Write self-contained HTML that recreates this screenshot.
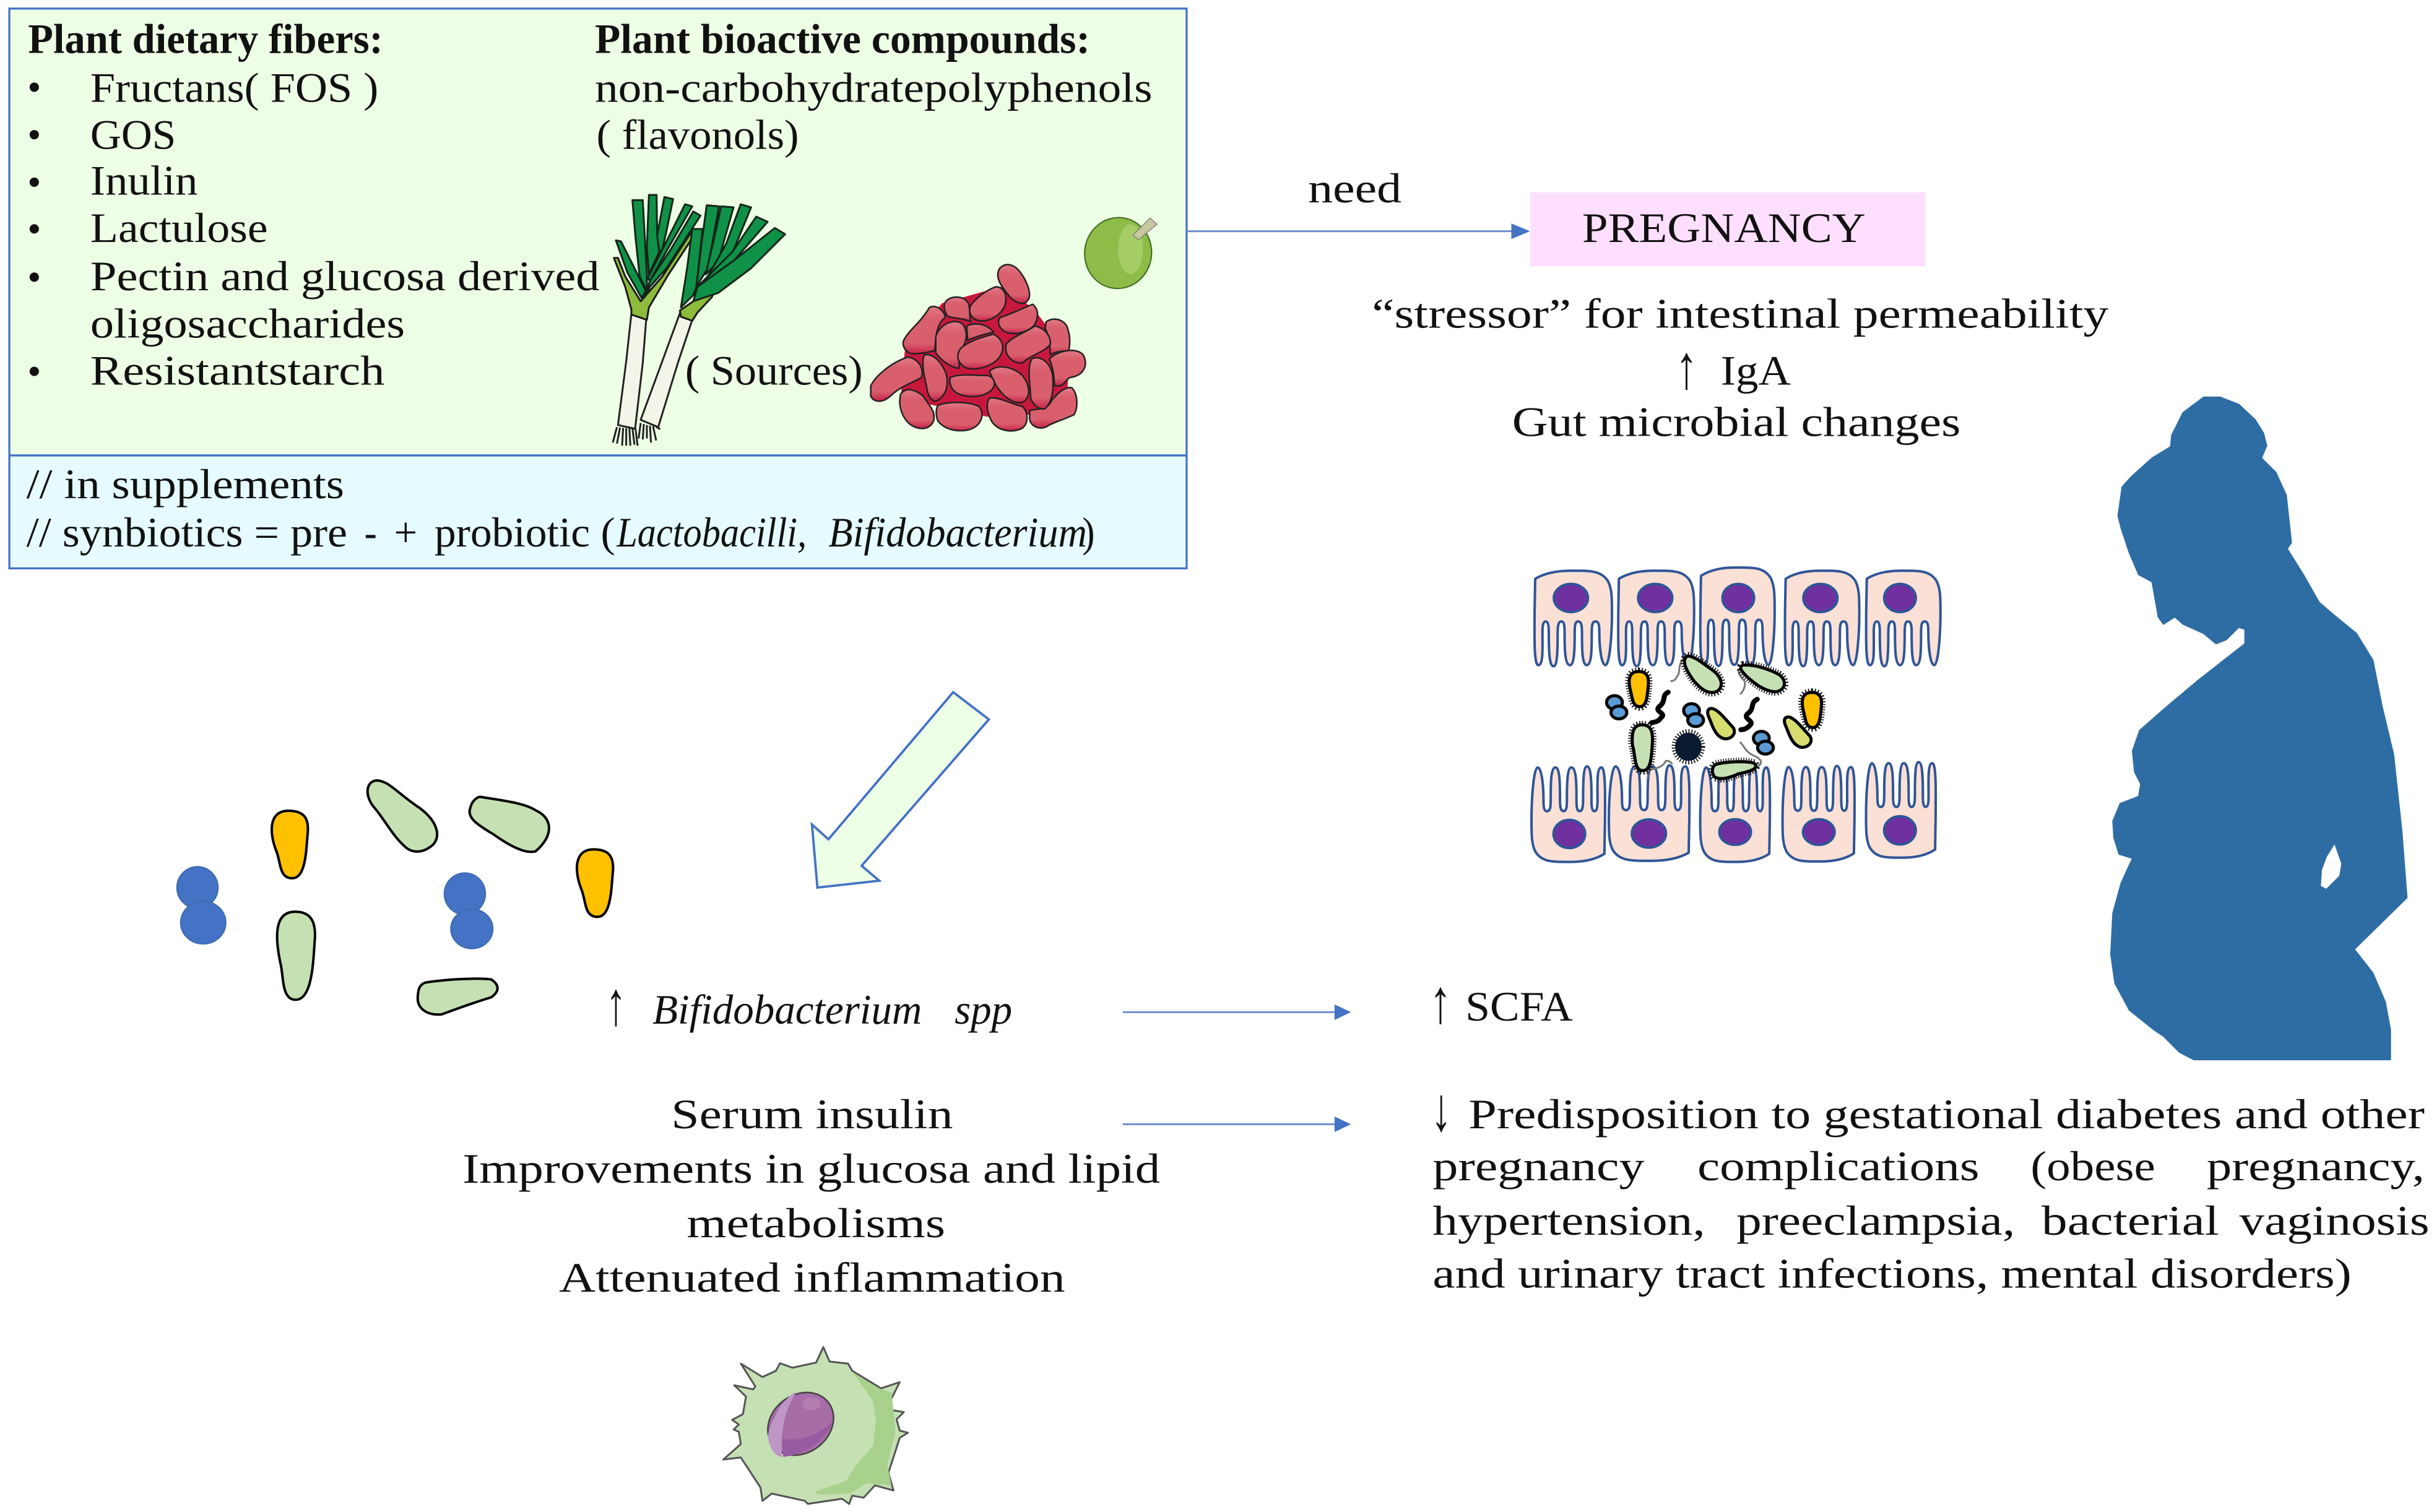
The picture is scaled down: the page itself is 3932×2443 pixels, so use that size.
<!DOCTYPE html>
<html><head><meta charset="utf-8"><style>
html,body{margin:0;padding:0;background:#fff}
svg{display:block}
text{font-family:"Liberation Serif",serif;font-size:27px;fill:#111}
.b{font-weight:bold}.i{font-style:italic}
text.ar{font-size:40px}
.n{vector-effect:non-scaling-stroke}
.g{fill:#c5e0b3}.o{fill:#ffc000}.y{fill:#d6dc6e}.bl{fill:#5b9bd5}
.bk{stroke:#000;stroke-width:5;stroke-linejoin:round}
.hair{fill:none;stroke:#111;stroke-width:13;stroke-dasharray:1.5 2.5}
.fl{fill:none;stroke:#777;stroke-width:3}
.sq{fill:none;stroke:#000;stroke-width:8;stroke-linecap:round}
.cell{fill:#fbe0d6;stroke:#2f5597;stroke-width:4;stroke-linejoin:round}
.nuc{fill:#7030a0;stroke:#2f5597;stroke-width:4}
.leaf{fill:#0f9147;stroke:#15251a;stroke-width:3;stroke-linejoin:round}
.lt{fill:#8dbb3a;stroke:#1a1a1a;stroke-width:3;stroke-linejoin:round}
.st{fill:#f3f5e9;stroke:#222;stroke-width:3;stroke-linejoin:round}
.bean{fill:url(#bg);stroke:#222;stroke-width:2.500;stroke-linejoin:round}
.z3{stroke:#000;stroke-width:4;stroke-linejoin:round}
</style></head><body>
<svg xmlns="http://www.w3.org/2000/svg" width="3932" height="2443" viewBox="0 0 1563 971" preserveAspectRatio="none">
<defs>
<linearGradient id="bg" x1="0" y1="0" x2="0" y2="1"><stop offset="0" stop-color="#e27985"/><stop offset=".25" stop-color="#d95f6d"/><stop offset=".78" stop-color="#d95f6d"/><stop offset="1" stop-color="#c8234a"/></linearGradient>
<path id="c" class="cell n" d="M2 40C30 15 70 2 115 2C175 2 210 0 232 50C245 85 245 130 245 200C245 300 238 440 225 445C210 445 205 350 205 290C205 255 203 240 193 240C182 240 181 260 181 300C181 380 180 445 165 445C150 445 150 360 150 290C150 255 147 240 138 240C128 240 127 260 127 300C127 380 125 445 112 445C95 445 95 360 95 290C95 255 93 240 85 240C75 240 73 260 73 300C73 380 72 450 60 450C45 450 45 360 45 290C45 255 42 240 35 240C27 240 25 260 25 290C25 370 28 445 12 445C-3 445 0 300 0 200Z"/>
</defs>
<rect width="1563" height="971" fill="#fff"/>

<!-- top box -->
<rect x="6" y="5.500" width="756" height="287" fill="#edffe5" stroke="#4472c4" stroke-width="1.300"/>
<rect x="6" y="292.500" width="756" height="72.500" fill="#e5fbff" stroke="#4472c4" stroke-width="1.300"/>

<text class="b" x="18" y="34" textLength="228" lengthAdjust="spacingAndGlyphs">Plant dietary fibers:</text>
<text x="58" y="65.300" textLength="185" lengthAdjust="spacingAndGlyphs">Fructans( FOS )</text>
<text x="58" y="95.500" textLength="55" lengthAdjust="spacingAndGlyphs">GOS</text>
<text x="58" y="125" textLength="69" lengthAdjust="spacingAndGlyphs">Inulin</text>
<text x="58" y="155.500" textLength="114" lengthAdjust="spacingAndGlyphs">Lactulose</text>
<text x="58" y="186.500" textLength="327" lengthAdjust="spacingAndGlyphs">Pectin and glucosa derived</text>
<text x="58" y="216.800" textLength="202" lengthAdjust="spacingAndGlyphs">oligosaccharides</text>
<text x="58" y="247" textLength="189" lengthAdjust="spacingAndGlyphs">Resistantstarch</text>
<g fill="#111"><circle cx="22" cy="56" r="3"/><circle cx="22" cy="86.500" r="3"/><circle cx="22" cy="117" r="3"/><circle cx="22" cy="147" r="3"/><circle cx="22" cy="178" r="3"/><circle cx="22" cy="238.500" r="3"/></g>

<text class="b" x="382" y="34" textLength="318" lengthAdjust="spacingAndGlyphs">Plant bioactive compounds:</text>
<text x="382" y="65.300" textLength="358" lengthAdjust="spacingAndGlyphs">non-carbohydratepolyphenols</text>
<text x="383" y="95.500" textLength="130" lengthAdjust="spacingAndGlyphs">( flavonols)</text>
<text x="440" y="247" textLength="114" lengthAdjust="spacingAndGlyphs">( Sources)</text>

<text x="17" y="320" textLength="204" lengthAdjust="spacingAndGlyphs">// in supplements</text>
<text x="17" y="351" textLength="206" lengthAdjust="spacingAndGlyphs">// synbiotics = pre</text>
<text x="234" y="351" textLength="8" lengthAdjust="spacingAndGlyphs">-</text>
<text x="253" y="351" textLength="15" lengthAdjust="spacingAndGlyphs">+</text>
<text x="279" y="351" textLength="116" lengthAdjust="spacingAndGlyphs">probiotic (</text>
<text class="i" x="396" y="351" textLength="122" lengthAdjust="spacingAndGlyphs">Lactobacilli,</text>
<text class="i" x="532" y="351" textLength="166" lengthAdjust="spacingAndGlyphs">Bifidobacterium</text>
<text x="695" y="351" textLength="8" lengthAdjust="spacingAndGlyphs">)</text>

<!-- leeks -->
<g transform="scale(.3975) translate(970,300) scale(.33333)">
<path class="st n" d="M150 620L125 850L85 1160L168 1178L205 860L222 645Z"/>
<path class="lt n" d="M65 350L85 350L120 440L195 560L300 440L440 225L448 250L330 430L235 590L225 650L150 625L150 600L120 490Z"/>
<path class="leaf n" d="M75 265L100 270L220 510L200 545L130 420Z"/>
<path class="leaf n" d="M155 70L205 70L225 430L225 510L190 440L170 250Z"/>
<path class="leaf n" d="M235 45L272 45L275 240L285 320L235 430L225 300Z"/>
<path class="leaf n" d="M310 55L352 65L320 220L300 310L285 320L275 240Z"/>
<path class="leaf n" d="M410 90L445 100L330 300L240 460L228 450L310 290Z"/>
<path class="leaf n" d="M450 125L485 145L320 400L240 490L215 540L240 460L340 310Z"/>
<path class="st n" d="M388 610L445 650L375 860L280 1170L195 1135L300 850Z"/>
<path class="lt n" d="M385 605L450 560L550 515L540 540L470 615L445 655L390 635Z"/>
<path class="leaf n" d="M515 95L575 100L520 400L465 490L490 280Z"/>
<path class="leaf n" d="M585 100L645 105L570 370L510 430L550 260Z"/>
<path class="leaf n" d="M680 90L730 105L630 350L520 440L610 280Z"/>
<path class="leaf n" d="M755 150L810 175L650 360L460 500L640 320Z"/>
<path class="leaf n" d="M445 210L495 210L465 490L450 530L390 590L420 400Z"/>
<path class="leaf n" d="M845 205L895 235L730 400L570 520L450 560L470 490L650 360Z"/>
<path class="n" fill="none" stroke="#222" stroke-width="3" d="M80 1170L60 1245M95 1172L80 1250M110 1174L105 1260M125 1175L125 1260M140 1176L145 1260M155 1177L165 1255M170 1178L180 1260M195 1150L185 1225M210 1155L205 1230M225 1160L225 1225M240 1163L245 1245M255 1166L270 1235M270 1170L290 1180"/>
</g>

<!-- beans -->
<g transform="scale(.3975) translate(1395,410) scale(.33333)">
<path d="M380 240L700 150L850 300L1000 500L980 760L800 780L600 790L180 700L200 470Z" fill="#c8173d"/>
<g class="beans">
<path class="bean n" d="M400 230C420 205 480 200 505 235C520 260 510 300 520 330C480 310 430 315 405 300C390 270 385 250 400 230Z"/>
<path class="bean n" d="M660 70C690 40 730 50 760 90C790 130 815 190 800 220C780 255 740 240 710 210C680 170 630 120 660 70Z"/>
<path class="bean n" d="M520 250C550 210 590 180 640 160C680 160 700 200 685 250C665 300 610 330 560 325C520 315 505 280 520 250Z"/>
<path class="bean n" d="M200 410C230 360 270 340 320 260C360 240 400 290 395 310C350 340 350 420 345 470C300 480 240 490 220 480C190 460 185 430 200 410Z"/>
<path class="bean n" d="M500 350C540 330 600 340 630 380C580 390 520 410 505 420Z"/>
<path class="bean n" d="M350 400C370 340 440 310 480 340C510 380 500 430 470 470C455 510 470 550 460 555C420 550 380 520 350 480Z"/>
<path class="bean n" d="M885 330C910 310 960 310 985 350C1005 400 1000 440 995 470C950 470 920 480 905 490C905 450 900 400 880 360Z"/>
<path class="bean n" d="M660 310C720 290 780 260 820 245C850 270 850 310 825 350C780 390 720 395 680 375C650 350 650 330 660 310Z"/>
<path class="bean n" d="M690 440C720 400 790 380 830 350C880 360 910 400 905 440C870 480 810 490 770 530C730 530 700 510 690 470Z"/>
<path class="bean n" d="M470 460C510 420 590 400 630 390C670 410 690 450 660 500C620 550 540 570 490 550C450 520 450 490 470 460Z"/>
<path class="bean n" d="M900 510C940 470 1030 450 1065 490C1090 540 1070 590 1000 600C980 610 975 635 950 640L925 640C925 590 915 540 900 510Z"/>
<path class="bean n" d="M35 640C60 590 130 530 215 500C270 510 295 560 280 600C250 620 180 640 130 690C90 725 50 720 35 690Z"/>
<path class="bean n" d="M610 570C650 530 730 550 770 590C810 640 810 700 770 720C720 730 680 690 650 650C630 620 620 590 610 570Z"/>
<path class="bean n" d="M295 490C340 480 380 530 400 580C415 640 400 690 350 715C320 710 310 680 305 640C290 580 280 520 295 490Z"/>
<path class="bean n" d="M420 600C460 580 530 590 600 590C640 600 645 640 615 665C570 700 490 700 445 670C420 650 415 620 420 600Z"/>
<path class="bean n" d="M805 760C830 750 870 760 900 730C930 680 980 640 1010 650C1040 680 1040 750 1020 780C980 800 940 810 900 830C860 860 810 840 805 800Z"/>
<path class="bean n" d="M815 510C850 490 900 520 915 580C925 650 915 720 880 750C850 760 820 730 810 700C810 640 790 560 815 510Z"/>
<path class="bean n" d="M180 680C200 650 240 650 290 690C320 740 350 760 340 810C320 855 270 855 230 830C190 800 165 740 180 680Z"/>
<path class="bean n" d="M360 735C410 715 510 715 560 740C590 780 570 830 520 850C470 865 400 860 360 810C350 780 350 755 360 735Z"/>
<path class="bean n" d="M610 700C650 690 720 730 770 740C800 770 800 820 770 845C720 870 650 860 620 810C600 770 590 730 610 700Z"/>
</g>
</g>

<!-- apple -->
<ellipse cx="718" cy="162.500" rx="21.500" ry="22.800" fill="#8dbd48" stroke="#3f6a20" stroke-width=".8" transform="rotate(8 718 162.500)"/>
<ellipse cx="726" cy="160" rx="8" ry="16" fill="#a5cd66"/>
<path d="M727.500 151L738.500 140L743 144L731 154Z" fill="#c8c8a0" stroke="#777" stroke-width=".5"/>

<!-- connector need -->
<line x1="762" y1="148.500" x2="972" y2="148.500" stroke="#6f8fd0" stroke-width="1.200"/>
<path d="M970.500 143.500L982.500 148.500L970.500 153.500Z" fill="#4472c4"/>
<text x="840" y="130" textLength="60" lengthAdjust="spacingAndGlyphs">need</text>
<rect x="982.500" y="123.500" width="254" height="47.500" fill="#ffdfff"/>
<text x="1016" y="155.500" textLength="182" lengthAdjust="spacingAndGlyphs">PREGNANCY</text>
<text x="881" y="210.500" textLength="473" lengthAdjust="spacingAndGlyphs">“stressor” for intestinal permeability</text>
<text class="ar" x="1076" y="249.300" textLength="14" lengthAdjust="spacingAndGlyphs">↑</text>
<text x="1105" y="247" textLength="45" lengthAdjust="spacingAndGlyphs">IgA</text>
<text x="971" y="280" textLength="288" lengthAdjust="spacingAndGlyphs">Gut microbial changes</text>

<!-- silhouette -->
<g transform="scale(.3975) translate(3400,620) scale(.33333)">
<path fill="#2e6da4" stroke="#2e6da4" stroke-width="6" stroke-linejoin="round" fill-rule="evenodd" d="M65 640L85 500L130 450L230 360L320 305L325 250L380 140L480 65L560 65L650 100L730 175L770 240L785 300L760 360L830 430L880 540L905 770L885 800L960 920L1040 1060L1110 1120L1220 1210L1300 1340L1345 1566L1400 1796L1440 2166L1465 2491L1210 2741L1300 2856L1360 2996L1385 3132L1385 3276L432 3276L363 3240L285 3162L240 3132L120 3036L50 2906L30 2766L40 2566L80 2420L135 2300L70 2280L45 2200L40 2120L75 2035L165 2000L175 1940L145 1880L135 1780L170 1680L300 1566L450 1440L680 1260L680 1190L650 1180L590 1240L540 1260L480 1210L380 1165L340 1130L285 1165L260 1130L230 960L165 925L120 820L80 700ZM1115 2226L1075 2290L1050 2356L1045 2436L1075 2451L1140 2386L1150 2326Z"/>
</g>

<!-- epithelium -->
<g transform="translate(954,349.800) scale(.2028,.1369)">
<use href="#c" transform="translate(155,120)"/>
<use href="#c" transform="translate(420,120) scale(.98,1)"/>
<use href="#c" transform="translate(680,105) scale(.96,1.03)"/>
<use href="#c" transform="translate(948,120) scale(.96,1)"/>
<use href="#c" transform="translate(1205,120) scale(.96,1)"/>
<use href="#c" transform="translate(378,1490) scale(-.95,-1)"/>
<use href="#c" transform="translate(645,1485) scale(-1.04,-1)"/>
<use href="#c" transform="translate(900,1490) scale(-.9,-1)"/>
<use href="#c" transform="translate(1168,1488) scale(-.93,-1)"/>
<use href="#c" transform="translate(1425,1470) scale(-.9,-1)"/>
<g>
<ellipse class="nuc n" cx="270" cy="250" rx="54" ry="66"/><ellipse class="nuc n" cx="537" cy="250" rx="54" ry="66"/><ellipse class="nuc n" cx="800" cy="250" rx="50" ry="66"/><ellipse class="nuc n" cx="1060" cy="250" rx="54" ry="66"/><ellipse class="nuc n" cx="1312" cy="250" rx="50" ry="66"/>
<ellipse class="nuc n" cx="265" cy="1357" rx="50" ry="66"/><ellipse class="nuc n" cx="517" cy="1355" rx="54" ry="66"/><ellipse class="nuc n" cx="790" cy="1348" rx="50" ry="60"/><ellipse class="nuc n" cx="1055" cy="1348" rx="50" ry="60"/><ellipse class="nuc n" cx="1312" cy="1340" rx="50" ry="66"/>
</g>
<!-- flagella -->
<path class="fl n" d="M630 530C605 560 620 600 605 620C600 640 590 640 585 640"/>
<path class="fl n" d="M820 570C790 580 800 610 820 640C825 670 810 700 805 700"/>
<path class="fl n" d="M805 925C820 945 820 970 850 990C880 1010 875 1030 860 1040"/>
<path class="fl n" d="M510 1060C530 1050 560 1050 570 1015C580 1010 590 1025 590 1030M510 1070C520 1090 510 1095 510 1095"/>
<!-- microbes -->
<path class="hair n" d="M485 595C510 595 518 620 515 660C512 710 510 760 488 760C465 760 465 720 458 680C450 630 455 595 485 595Z"/><path class="o bk n" d="M485 595C510 595 518 620 515 660C512 710 510 760 488 760C465 760 465 720 458 680C450 630 455 595 485 595Z"/>
<g transform="translate(548,98)"><path class="hair n" d="M485 595C510 595 518 620 515 660C512 710 510 760 488 760C465 760 465 720 458 680C450 630 455 595 485 595Z"/><path class="o bk n" d="M485 595C510 595 518 620 515 660C512 710 510 760 488 760C465 760 465 720 458 680C450 630 455 595 485 595Z"/></g>
<path class="hair n" d="M640 522C665 525 690 560 720 590C750 625 755 670 730 690C700 705 675 665 660 640C640 600 615 540 640 522Z"/><path class="g bk n" d="M640 522C665 525 690 560 720 590C750 625 755 670 730 690C700 705 675 665 660 640C640 600 615 540 640 522Z"/>
<path class="hair n" d="M815 565C850 560 900 585 930 610C955 640 950 680 920 690C890 690 860 660 840 635C820 610 795 575 815 565Z"/><path class="g bk n" d="M815 565C850 560 900 585 930 610C955 640 950 680 920 690C890 690 860 660 840 635C820 610 795 575 815 565Z"/>
<path class="hair n" d="M495 845C525 845 530 880 528 930C525 990 525 1060 497 1060C470 1060 475 990 465 940C462 890 465 845 495 845Z"/><path class="g bk n" d="M495 845C525 845 530 880 528 930C525 990 525 1060 497 1060C470 1060 475 990 465 940C462 890 465 845 495 845Z"/>
<path class="hair n" d="M730 1030C770 1015 830 1015 850 1025C865 1045 850 1060 800 1075C770 1095 745 1105 725 1090C715 1070 715 1040 730 1030Z"/><path class="g bk n" d="M730 1030C770 1015 830 1015 850 1025C865 1045 850 1060 800 1075C770 1095 745 1105 725 1090C715 1070 715 1040 730 1030Z"/>
<path class="y bk n" d="M715 768C735 770 760 820 785 860C795 890 775 915 755 910C730 900 720 860 710 820C700 790 700 770 715 768Z"/>
<path class="y bk n" transform="translate(243,40)" d="M715 768C735 770 760 820 785 860C795 890 775 915 755 910C730 900 720 860 710 820C700 790 700 770 715 768Z"/>
<ellipse class="bk n bl" cx="408" cy="740" rx="25" ry="32"/><ellipse class="bk n bl" cx="422" cy="787" rx="25" ry="30"/>
<ellipse class="bk n bl" cx="652" cy="778" rx="25" ry="32"/><ellipse class="bk n bl" cx="665" cy="823" rx="25" ry="30"/>
<ellipse class="bk n bl" cx="873" cy="908" rx="25" ry="32"/><ellipse class="bk n bl" cx="886" cy="952" rx="25" ry="30"/>
<path class="sq n" d="M578 692C555 710 575 730 548 762C535 785 575 790 555 812C548 830 535 832 525 835"/>
<path class="sq n" d="M860 725C835 745 855 765 828 795C815 820 855 825 835 850C825 865 815 868 808 868"/>
<ellipse class="hair n" cx="642" cy="948" rx="40" ry="64"/>
<ellipse class="n" cx="642" cy="948" rx="42" ry="66" fill="#0a1a30"/>
</g>

<!-- large arrow -->
<path d="M612.100 444.500L635 462L553.300 556L564.600 565.600L524.900 570L521.400 529.500L532 539Z" fill="#edffe5" stroke="#4472c4" stroke-width="1.500" stroke-linejoin="miter"/>

<!-- left bacteria -->
<g transform="translate(95.400,429.300) scale(.355,.157)">
<path class="o z3 n" d="M253 582C280 582 290 610 288 670C285 740 285 858 260 858C235 858 240 790 230 740C220 680 215 582 253 582Z"/>
<path class="o z3 n" transform="translate(552,158)" d="M253 582C280 582 290 610 288 670C285 740 285 858 260 858C235 858 240 790 230 740C220 680 215 582 253 582Z"/>
<path class="g z3 n" d="M265 995C295 995 302 1040 301 1100C298 1180 298 1355 266 1355C240 1355 245 1260 238 1200C230 1110 225 995 265 995Z"/>
<path class="g z3 n" d="M413 458C435 460 450 510 490 570C520 620 530 680 515 720C495 760 475 755 462 725C440 680 425 610 405 560C390 510 395 460 413 458Z"/>
<path class="g z3 n" d="M600 525C640 540 680 550 700 580C730 610 735 680 700 748C680 760 650 720 625 680C595 640 575 610 582 570C585 540 595 525 600 525Z"/>
<path class="g z3 n" d="M500 1285C540 1270 600 1265 620 1272C635 1295 635 1320 620 1345C590 1365 560 1390 530 1415C500 1420 485 1385 487 1340C488 1310 490 1295 500 1285Z"/>
</g>
<g fill="#4472c4" stroke="#3d6bb0" stroke-width=".8">
<ellipse cx="126.800" cy="570" rx="13.200" ry="13.400"/><ellipse cx="130.500" cy="592.500" rx="14.500" ry="13.700"/>
<ellipse cx="298.500" cy="574" rx="13.200" ry="13.400"/><ellipse cx="303" cy="596.500" rx="13.500" ry="12.700"/>
</g>

<!-- mid text -->
<text class="ar" x="389" y="658" textLength="13" lengthAdjust="spacingAndGlyphs">↑</text>
<text class="i" x="419" y="657.500" textLength="173" lengthAdjust="spacingAndGlyphs">Bifidobacterium</text>
<text class="i" x="613" y="657.500" textLength="37" lengthAdjust="spacingAndGlyphs">spp</text>
<line x1="721" y1="650" x2="859" y2="650" stroke="#6f8fd0" stroke-width="1.200"/>
<path d="M857 645L867.500 650L857 655Z" fill="#4472c4"/>
<line x1="721" y1="722" x2="859" y2="722" stroke="#6f8fd0" stroke-width="1.200"/>
<path d="M857 717L867.500 722L857 727Z" fill="#4472c4"/>
<text class="ar" x="918" y="656.600" textLength="14" lengthAdjust="spacingAndGlyphs">↑</text>
<text x="941" y="655.500" textLength="69" lengthAdjust="spacingAndGlyphs">SCFA</text>

<text x="431" y="724.500" textLength="181" lengthAdjust="spacingAndGlyphs">Serum insulin</text>
<text x="297" y="759.500" textLength="448" lengthAdjust="spacingAndGlyphs">Improvements in glucosa and lipid</text>
<text x="441" y="794.500" textLength="166" lengthAdjust="spacingAndGlyphs">metabolisms</text>
<text x="359" y="829.500" textLength="325" lengthAdjust="spacingAndGlyphs">Attenuated inflammation</text>

<text class="ar" x="919" y="726" textLength="13" lengthAdjust="spacingAndGlyphs">↓</text>
<text x="943" y="724.500" textLength="614" lengthAdjust="spacingAndGlyphs">Predisposition to gestational diabetes and other</text>
<text x="920" y="758" textLength="136" lengthAdjust="spacingAndGlyphs">pregnancy</text>
<text x="1090" y="758" textLength="181" lengthAdjust="spacingAndGlyphs">complications</text>
<text x="1304" y="758" textLength="80" lengthAdjust="spacingAndGlyphs">(obese</text>
<text x="1417" y="758" textLength="140" lengthAdjust="spacingAndGlyphs">pregnancy,</text>
<text x="920" y="793" textLength="175" lengthAdjust="spacingAndGlyphs">hypertension,</text>
<text x="1115" y="793" textLength="179" lengthAdjust="spacingAndGlyphs">preeclampsia,</text>
<text x="1311" y="793" textLength="114" lengthAdjust="spacingAndGlyphs">bacterial</text>
<text x="1438" y="793" textLength="122" lengthAdjust="spacingAndGlyphs">vaginosis</text>
<text x="920" y="827" textLength="590" lengthAdjust="spacingAndGlyphs">and urinary tract infections, mental disorders)</text>

<!-- immune cell -->
<g transform="translate(437.300,854.500) scale(.1325)">
<path class="n" d="M690 80L720 150L810 160L830 195L970 280L1060 250L1015 340L1020 385L1080 395L1045 430L1060 485L1100 495L1060 520L1005 690L1030 775L940 750L885 810L830 800L815 840L780 815L615 840L600 825L440 790L395 825L385 760L290 615L205 625L290 550L280 490L255 480L280 455L248 433L300 405L315 320L258 265L350 285L360 270L290 160L395 225L460 195L480 158L540 180L655 155Z" fill="#c5e0b3" stroke="#555" stroke-width="3" stroke-linejoin="round"/>
<path d="M835 205L970 285L1020 300L1030 390L1040 490L1000 650L1020 750L900 740L820 790L660 795L650 780L800 730L850 650L930 560L945 440L930 340Z" fill="#a8d18c"/>
<ellipse class="n" cx="580" cy="452" rx="170" ry="140" transform="rotate(-38 580 452)" fill="#a76da7" stroke="#444" stroke-width="2.500"/>
<path d="M545 303C490 340 440 430 420 510C430 580 460 610 490 612C480 500 500 380 560 300Z" fill="#bf97c6"/>
<path d="M490 525C580 540 680 500 735 440C700 540 600 600 495 612Z" fill="#965ba0"/>
<ellipse cx="632" cy="355" rx="44" ry="32" fill="#b37eb2"/>
</g>
</svg>
</body></html>
